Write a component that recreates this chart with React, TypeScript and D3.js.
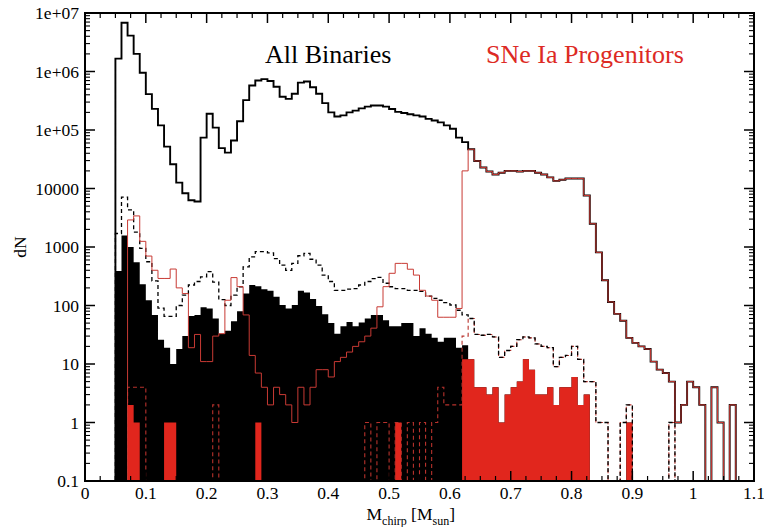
import React from 'react';
import * as d3 from 'd3';

// Histogram bins: left edge = BIN_START + i * BIN_WIDTH
const BIN_START = 0.05;
const BIN_WIDTH = 0.01;

// All binaries (solid black)
const allBinaries = [
  1660000, 6800000, 4100000, 2000000, 950000,
  410000, 230000, 120000, 52000, 26000, 12600, 8300, 6300, 6000, 74000,
  190000, 110000, 49000, 41000, 66000, 141000, 324000, 575000, 700000, 740000,
  690000, 550000, 370000, 340000, 417000, 645000, 676000, 537000, 417000, 288000,
  200000, 170000, 178000, 200000, 214000, 234000, 251000, 263000, 263000, 251000,
  229000, 204000, 195000, 186000, 178000, 170000, 155000, 145000, 135000, 120000,
  105000, 74000, 62000, 46800, 29500, 22900, 19500, 17400, 18600, 20000,
  20000, 19500, 20000, 20000, 18600, 17400, 15500, 13500, 14100, 14800,
  14800, 14800, 7600, 2500, 810, 270, 115, 72, 55, 28,
  23, 20, 18, 11, 8, 7, 5, 1, 2, 5,
  4, 2, 0, 4, 1, 0, 2,
];

// SNe Ia progenitors (solid red)
const snIaProgenitors = [
  0, 0, 2900, 3400, 1250,
  700, 400, 290, 290, 420, 200, 160, 19, 32, 11,
  11, 30, 33, 123, 300, 210, 69, 14, 7, 4,
  2, 4, 3, 2, 1, 4, 2, 4, 8, 8,
  6, 11, 13, 16, 20, 24, 30, 41, 95, 210,
  355, 525, 525, 417, 331, 182, 145, 123, 63, 63,
  63, 89, 20000, 46800, 29500, 22900, 19500, 17400, 18600, 20000,
  20000, 19500, 20000, 20000, 18600, 17400, 15500, 13500, 14100, 14800,
  14800, 14800, 7600, 2500, 810, 270, 115, 72, 55, 28,
  23, 20, 18, 11, 8, 7, 5, 1, 2, 5,
  4, 2, 0, 4, 1, 0, 2,
];

// All binaries, dashed subset (dashed black)
const allDashed = [
  1700, 7100, 4300, 1800, 950,
  560, 263, 90, 65, 65, 100, 150, 224, 257, 309,
  380, 251, 126, 100, 151, 209, 457, 676, 832, 832,
  794, 631, 490, 398, 525, 708, 776, 617, 490, 331,
  257, 182, 182, 191, 195, 224, 257, 288, 302, 240,
  209, 195, 195, 182, 182, 174, 145, 132, 123, 112,
  102, 83, 69, 60, 32, 31, 32, 29, 13, 17,
  20, 26, 29, 28, 22, 20, 19, 9, 13, 14,
  20, 12, 5, 5, 1, 1, 0, 0, 1, 2,
  0, 0, 0, 0, 0, 0, 1,
];

// SNe Ia, dashed subset (dashed red)
const snIaDashed = [
  0, 0, 4, 4, 4,
  0, 0, 0, 0, 0, 0, 0, 0, 0, 0,
  0, 2, 0, 0, 0, 0, 0, 0, 0, 0,
  0, 0, 0, 0, 0, 0, 0, 0, 0, 0,
  0, 0, 0, 0, 0, 0, 1, 0, 1, 1,
  0, 1, 0, 1, 0, 1, 0, 1, 4, 2,
  2, 2, 30, 60, 32, 31, 32, 29, 13, 17,
  20, 26, 29, 28, 22, 20, 19, 9, 13, 14,
  20, 12, 5, 5, 1, 1, 0, 0, 1, 2,
  0, 0, 0, 0, 0, 0, 1,
];

// All binaries, filled subset (black fill)
const allFilled = [
  390, 1580, 1000, 550, 230,
  123, 69, 26, 19, 10, 18, 30, 66, 69, 93,
  89, 60, 33, 37, 54, 80, 160, 224, 214, 190,
  178, 141, 102, 89, 102, 178, 166, 129, 98, 71,
  50, 33, 44, 52, 44, 51, 60, 69, 69, 56,
  44, 44, 50, 50, 30, 41, 33, 28, 24, 28,
  28, 19, 21, 12, 4, 4, 3, 4, 1, 3,
  4, 5, 12, 8, 3, 3, 4, 2, 4, 4,
  6, 2, 3, 0, 0, 0, 0, 0, 0, 1,
];

// SNe Ia, filled subset (red fill)
const snIaFilled = [
  0, 0, 2, 1, 0,
  0, 0, 0, 1, 1, 0, 0, 0, 0, 0,
  0, 0, 0, 0, 0, 0, 0, 0, 1, 0,
  0, 0, 0, 0, 0, 0, 0, 0, 0, 0,
  0, 0, 0, 0, 0, 0, 0, 0, 0, 0,
  0, 1, 0, 0, 0, 0, 0, 0, 0, 0,
  0, 0, 12, 12, 4, 4, 3, 4, 1, 3,
  4, 5, 12, 8, 3, 3, 4, 2, 4, 4,
  6, 2, 3, 0, 0, 0, 0, 0, 0, 1,
];

const xTicks = [0, 0.1, 0.2, 0.3, 0.4, 0.5, 0.6, 0.7, 0.8, 0.9, 1, 1.1];
const xTickLabels = ['0', '0.1', '0.2', '0.3', '0.4', '0.5', '0.6', '0.7', '0.8', '0.9', '1', '1.1'];
const yTicks = [0.1, 1, 10, 100, 1000, 10000, 1e5, 1e6, 1e7];
const yTickLabels = ['0.1', '1', '10', '100', '1000', '10000', '1e+05', '1e+06', '1e+07'];

const W = 764;
const H = 527;
const M = { left: 85, right: 10, top: 13, bottom: 46 };
const FONT = '"Liberation Serif", "Times New Roman", serif';

export default function App() {
  const x = d3.scaleLinear().domain([0, 1.1]).range([M.left, W - M.right]);
  const y = d3.scaleLog().domain([0.1, 1e7]).range([H - M.bottom, M.top]);
  const FLOOR = 0.02;

  const edge = (i: number) => BIN_START + i * BIN_WIDTH;

  const stepPath = (vals: number[], closed: boolean) => {
    const first = vals.findIndex((v) => v > 0);
    let last = -1;
    vals.forEach((v, i) => { if (v > 0) last = i; });
    if (first < 0) return '';
    const yb = y(FLOOR);
    let d = `M${x(edge(first))},${yb}`;
    for (let i = first; i <= last; i++) {
      const v = vals[i] > 0 ? vals[i] : FLOOR;
      d += `V${y(v)}H${x(edge(i + 1))}`;
    }
    d += `V${yb}`;
    if (closed) d += 'Z';
    return d;
  };

  const x0 = x(0), x1 = x(1.1), y0 = y(0.1), y1 = y(1e7);

  const minorX = d3.range(0, 1.1001, 0.025).filter((v) => Math.abs(v * 10 - Math.round(v * 10)) > 1e-6);
  const minorY: number[] = [];
  for (let e = -1; e < 7; e++) for (let k = 2; k <= 9; k++) minorY.push(k * Math.pow(10, e));

  const redLine = '#c83a34';
  const redFill = '#e1261d';

  return (
    <svg width={W} height={H} style={{ position: 'absolute', left: 0, top: 0, background: '#fff' }}
      fontFamily={FONT}>
      <defs>
        <clipPath id="plot">
          <rect x={x0} y={y1} width={x1 - x0} height={y0 - y1} />
        </clipPath>
      </defs>
      <rect x={0} y={0} width={W} height={H} fill="#fff" />
      <g clipPath="url(#plot)">
        <path d={stepPath(allFilled, true)} fill="#000" stroke="none" />
        <path d={stepPath(snIaFilled, true)} fill={redFill} stroke="none" />
        <path d={stepPath(snIaDashed, false)} fill="none" stroke="#b8322c" strokeWidth={1.1} strokeDasharray="4,3" />
        <path d={stepPath(allDashed, false)} fill="none" stroke="#000" strokeWidth={1.3} strokeDasharray="4,3" />
        <path d={stepPath(allBinaries, false)} fill="none" stroke="#000" strokeWidth={1.9} />
        <path d={stepPath(snIaProgenitors, false)} fill="none" stroke={redLine} strokeWidth={1} />
      </g>

      {/* frame */}
      <rect x={x0} y={y1} width={x1 - x0} height={y0 - y1} fill="none" stroke="#000" strokeWidth={2} />

      {/* x ticks */}
      {xTicks.map((t) => (
        <g key={'xt' + t}>
          <line x1={x(t)} x2={x(t)} y1={y0} y2={y0 - 10} stroke="#000" strokeWidth={1.5} />
          <line x1={x(t)} x2={x(t)} y1={y1} y2={y1 + 10} stroke="#000" strokeWidth={1.5} />
        </g>
      ))}
      {minorX.map((t) => (
        <g key={'xm' + t}>
          <line x1={x(t)} x2={x(t)} y1={y0} y2={y0 - 5} stroke="#000" strokeWidth={1.2} />
          <line x1={x(t)} x2={x(t)} y1={y1} y2={y1 + 5} stroke="#000" strokeWidth={1.2} />
        </g>
      ))}
      {/* y ticks */}
      {yTicks.map((t) => (
        <g key={'yt' + t}>
          <line x1={x0} x2={x0 + 10} y1={y(t)} y2={y(t)} stroke="#000" strokeWidth={1.5} />
          <line x1={x1} x2={x1 - 10} y1={y(t)} y2={y(t)} stroke="#000" strokeWidth={1.5} />
        </g>
      ))}
      {minorY.map((t) => (
        <g key={'ym' + t}>
          <line x1={x0} x2={x0 + 5} y1={y(t)} y2={y(t)} stroke="#000" strokeWidth={1.1} />
          <line x1={x1} x2={x1 - 5} y1={y(t)} y2={y(t)} stroke="#000" strokeWidth={1.1} />
        </g>
      ))}

      {/* tick labels */}
      {xTicks.map((t, i) => (
        <text key={'xl' + t} x={x(t)} y={y0 + 18} fontSize={17.5} textAnchor="middle">{xTickLabels[i]}</text>
      ))}
      {yTicks.map((t, i) => (
        <text key={'yl' + t} x={x0 - 6} y={y(t) + 6} fontSize={17.5} textAnchor="end">{yTickLabels[i]}</text>
      ))}

      {/* axis titles */}
      <text x={22} y={(y0 + y1) / 2} fontSize={17.5} textAnchor="middle"
        transform={`rotate(-90, 22, ${(y0 + y1) / 2})`} dominantBaseline="middle">dN</text>
      <text x={x(0.55) - 53} y={H - 7} fontSize={17.5}>
        M<tspan fontSize={12} dy={5}>chirp</tspan><tspan dy={-5}> [M</tspan><tspan fontSize={12} dy={5}>sun</tspan><tspan dy={-5}>]</tspan>
      </text>

      {/* legends */}
      <text x={265} y={63} fontSize={26} fill="#000">All Binaries</text>
      <text x={486} y={63} fontSize={26} fill="#dd2a24">SNe Ia Progenitors</text>
    </svg>
  );
}
